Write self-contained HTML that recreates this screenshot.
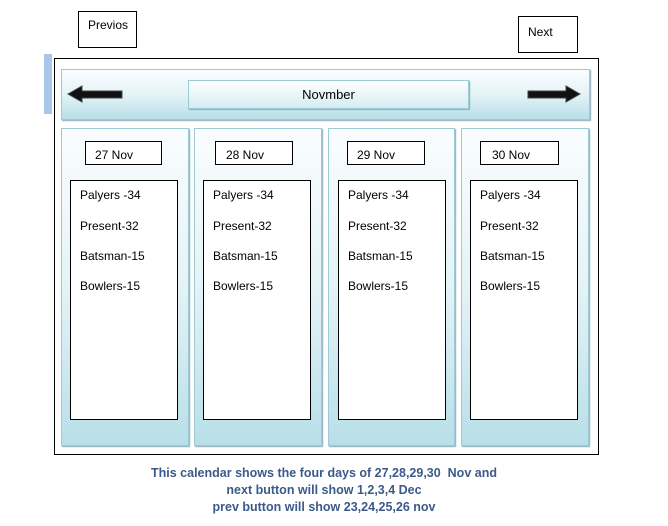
<!DOCTYPE html><html><head><style>
body{margin:0;width:668px;height:526px;background:#fff;position:relative;font-family:"Liberation Sans",sans-serif;overflow:hidden}
.a{position:absolute;box-sizing:border-box}
.bx{border:1px solid #000;background:#fff;font-size:12px}
.col{background:linear-gradient(#fafdfe 0%,#e4f3f7 50%,#b8dfe8 100%);border:1px solid #9ccbd6;box-shadow:1px 1px 1px #8ab}
.t{position:absolute;left:9px;font-size:12px}
.cap{position:absolute;left:0;width:648px;text-align:center;color:#3b5a8a;font-weight:bold;font-size:12.5px}
</style></head><body>
<div class="a bx" style="left:78px;top:11px;width:59px;height:37px;padding:6px 0 0 9px">Previos</div>
<div class="a bx" style="left:518px;top:16px;width:60px;height:37px;padding:8px 0 0 9px">Next</div>
<div class="a" style="left:44px;top:54px;width:8px;height:60px;background:#a9c7e8"></div>
<div class="a" style="left:54px;top:58px;width:545px;height:397px;border:1px solid #000"></div>
<div class="a col" style="left:61px;top:69px;width:529px;height:51px"></div>
<div class="a" style="left:188px;top:80px;width:281px;height:29px;border:1px solid #9ccbd6;background:linear-gradient(#fff,#d5ecf2);box-shadow:1px 1px 1px #8ab;text-align:center;font-size:13px;line-height:28px">Novmber</div>
<svg class="a" style="left:66px;top:84px" width="60" height="20"><polygon points="2,10 16,2 16,7 56,7 56,14 16,14 16,18" fill="#111" stroke="#444"/></svg>
<svg class="a" style="left:524px;top:84px" width="60" height="20"><polygon points="56,10 42,2 42,7 4,7 4,14 42,14 42,18" fill="#111" stroke="#444"/></svg>
<div class="a col" style="left:61px;top:128px;width:128px;height:318px"></div>
<div class="a col" style="left:194px;top:128px;width:128px;height:318px"></div>
<div class="a col" style="left:328px;top:128px;width:127px;height:318px"></div>
<div class="a col" style="left:461px;top:128px;width:128px;height:318px"></div>
<div class="a bx" style="left:85px;top:141px;width:77px;height:24px;padding:6px 0 0 9px">27 Nov</div>
<div class="a bx" style="left:215px;top:141px;width:78px;height:24px;padding:6px 0 0 10px">28 Nov</div>
<div class="a bx" style="left:347px;top:141px;width:78px;height:24px;padding:6px 0 0 9px">29 Nov</div>
<div class="a bx" style="left:480px;top:141px;width:79px;height:24px;padding:6px 0 0 11px">30 Nov</div>
<div class="a bx" style="left:70px;top:180px;width:108px;height:240px"><div class="t" style="top:7px">Palyers -34</div><div class="t" style="top:38px">Present-32</div><div class="t" style="top:68px">Batsman-15</div><div class="t" style="top:98px">Bowlers-15</div></div>
<div class="a bx" style="left:203px;top:180px;width:108px;height:240px"><div class="t" style="top:7px">Palyers -34</div><div class="t" style="top:38px">Present-32</div><div class="t" style="top:68px">Batsman-15</div><div class="t" style="top:98px">Bowlers-15</div></div>
<div class="a bx" style="left:338px;top:180px;width:108px;height:240px"><div class="t" style="top:7px">Palyers -34</div><div class="t" style="top:38px">Present-32</div><div class="t" style="top:68px">Batsman-15</div><div class="t" style="top:98px">Bowlers-15</div></div>
<div class="a bx" style="left:470px;top:180px;width:108px;height:240px"><div class="t" style="top:7px">Palyers -34</div><div class="t" style="top:38px">Present-32</div><div class="t" style="top:68px">Batsman-15</div><div class="t" style="top:98px">Bowlers-15</div></div>
<div class="cap" style="top:466px">This calendar shows the four days of 27,28,29,30 &nbsp;Nov and</div>
<div class="cap" style="top:483px">next button will show 1,2,3,4 Dec</div>
<div class="cap" style="top:500px">prev button will show 23,24,25,26 nov</div>
</body></html>
